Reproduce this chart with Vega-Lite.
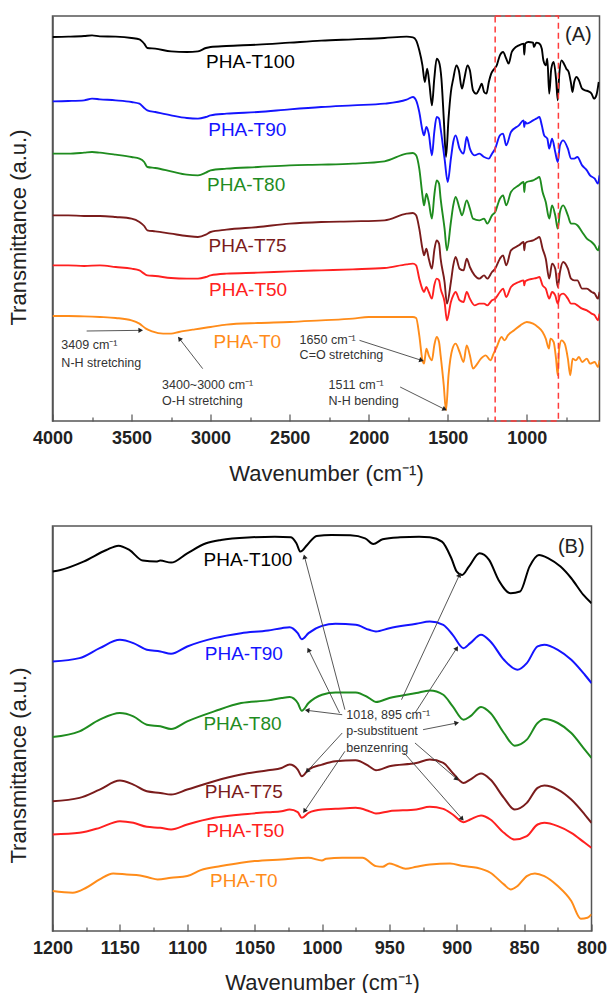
{
"$schema": "https://vega.github.io/schema/vega-lite/v6.json",
"background": "white",
"padding": {"left": 6.5, "top": 14, "right": 0, "bottom": 0},
"columns": 1,
"align": "none",
"spacing": 40,
"config": {
  "view": {"stroke": "#555", "strokeWidth": 1.5},
  "font": "Liberation Sans",
  "axis": {"grid": false, "labelFont": "Liberation Sans", "titleFont": "Liberation Sans", "labelColor": "#222", "titleColor": "#222", "tickColor": "#555", "tickWidth": 1.2, "titleFontWeight": "normal"}
},
"datasets": {
"specA": [
{"s":"PHA-T100","wn":4000,"t":1152},{"s":"PHA-T100","wn":3900,"t":1153},{"s":"PHA-T100","wn":3800,"t":1155},{"s":"PHA-T100","wn":3750,"t":1157},{"s":"PHA-T100","wn":3700,"t":1154},{"s":"PHA-T100","wn":3600,"t":1153},{"s":"PHA-T100","wn":3500,"t":1149},{"s":"PHA-T100","wn":3450,"t":1145},{"s":"PHA-T100","wn":3420,"t":1132},{"s":"PHA-T100","wn":3400,"t":1119},{"s":"PHA-T100","wn":3350,"t":1117},{"s":"PHA-T100","wn":3250,"t":1109},{"s":"PHA-T100","wn":3150,"t":1107},{"s":"PHA-T100","wn":3080,"t":1109},{"s":"PHA-T100","wn":3030,"t":1119},{"s":"PHA-T100","wn":3000,"t":1122},{"s":"PHA-T100","wn":2900,"t":1125},{"s":"PHA-T100","wn":2700,"t":1129},{"s":"PHA-T100","wn":2500,"t":1135},{"s":"PHA-T100","wn":2300,"t":1141},{"s":"PHA-T100","wn":2100,"t":1145},{"s":"PHA-T100","wn":1900,"t":1149},{"s":"PHA-T100","wn":1760,"t":1153},{"s":"PHA-T100","wn":1720,"t":1151},{"s":"PHA-T100","wn":1700,"t":1142},{"s":"PHA-T100","wn":1680,"t":1112},{"s":"PHA-T100","wn":1660,"t":1067},{"s":"PHA-T100","wn":1645,"t":1017},{"s":"PHA-T100","wn":1630,"t":1057},{"s":"PHA-T100","wn":1615,"t":1007},{"s":"PHA-T100","wn":1600,"t":947},{"s":"PHA-T100","wn":1585,"t":1027},{"s":"PHA-T100","wn":1570,"t":1087},{"s":"PHA-T100","wn":1555,"t":1077},{"s":"PHA-T100","wn":1540,"t":1027},{"s":"PHA-T100","wn":1525,"t":907},{"s":"PHA-T100","wn":1511,"t":792},{"s":"PHA-T100","wn":1495,"t":907},{"s":"PHA-T100","wn":1480,"t":987},{"s":"PHA-T100","wn":1465,"t":1027},{"s":"PHA-T100","wn":1445,"t":1067},{"s":"PHA-T100","wn":1430,"t":1052},{"s":"PHA-T100","wn":1410,"t":997},{"s":"PHA-T100","wn":1395,"t":1027},{"s":"PHA-T100","wn":1375,"t":1067},{"s":"PHA-T100","wn":1360,"t":1052},{"s":"PHA-T100","wn":1340,"t":992},{"s":"PHA-T100","wn":1320,"t":982},{"s":"PHA-T100","wn":1300,"t":997},{"s":"PHA-T100","wn":1285,"t":1012},{"s":"PHA-T100","wn":1270,"t":987},{"s":"PHA-T100","wn":1255,"t":982},{"s":"PHA-T100","wn":1240,"t":1017},{"s":"PHA-T100","wn":1225,"t":1042},{"s":"PHA-T100","wn":1205,"t":1057},{"s":"PHA-T100","wn":1190,"t":1067},{"s":"PHA-T100","wn":1170,"t":1097},{"s":"PHA-T100","wn":1150,"t":1107},{"s":"PHA-T100","wn":1130,"t":1087},{"s":"PHA-T100","wn":1115,"t":1072},{"s":"PHA-T100","wn":1095,"t":1107},{"s":"PHA-T100","wn":1080,"t":1117},{"s":"PHA-T100","wn":1050,"t":1127},{"s":"PHA-T100","wn":1020,"t":1132},{"s":"PHA-T100","wn":1016,"t":1099},{"s":"PHA-T100","wn":1010,"t":1132},{"s":"PHA-T100","wn":990,"t":1137},{"s":"PHA-T100","wn":960,"t":1135},{"s":"PHA-T100","wn":955,"t":1122},{"s":"PHA-T100","wn":940,"t":1135},{"s":"PHA-T100","wn":920,"t":1132},{"s":"PHA-T100","wn":905,"t":1117},{"s":"PHA-T100","wn":895,"t":1082},{"s":"PHA-T100","wn":880,"t":1067},{"s":"PHA-T100","wn":870,"t":1087},{"s":"PHA-T100","wn":858,"t":982},{"s":"PHA-T100","wn":845,"t":1057},{"s":"PHA-T100","wn":830,"t":1077},{"s":"PHA-T100","wn":815,"t":1027},{"s":"PHA-T100","wn":804,"t":962},{"s":"PHA-T100","wn":795,"t":1037},{"s":"PHA-T100","wn":780,"t":1082},{"s":"PHA-T100","wn":765,"t":1072},{"s":"PHA-T100","wn":750,"t":1057},{"s":"PHA-T100","wn":735,"t":1047},{"s":"PHA-T100","wn":720,"t":1012},{"s":"PHA-T100","wn":711,"t":987},{"s":"PHA-T100","wn":700,"t":1017},{"s":"PHA-T100","wn":685,"t":1032},{"s":"PHA-T100","wn":670,"t":1022},{"s":"PHA-T100","wn":650,"t":997},{"s":"PHA-T100","wn":630,"t":992},{"s":"PHA-T100","wn":610,"t":989},{"s":"PHA-T100","wn":590,"t":982},{"s":"PHA-T100","wn":575,"t":967},{"s":"PHA-T100","wn":560,"t":977},{"s":"PHA-T100","wn":545,"t":1017},
{"s":"PHA-T90","wn":4000,"t":959},{"s":"PHA-T90","wn":3900,"t":960},{"s":"PHA-T90","wn":3800,"t":962},{"s":"PHA-T90","wn":3750,"t":967},{"s":"PHA-T90","wn":3700,"t":965},{"s":"PHA-T90","wn":3600,"t":962},{"s":"PHA-T90","wn":3500,"t":957},{"s":"PHA-T90","wn":3450,"t":952},{"s":"PHA-T90","wn":3420,"t":939},{"s":"PHA-T90","wn":3400,"t":932},{"s":"PHA-T90","wn":3350,"t":927},{"s":"PHA-T90","wn":3250,"t":917},{"s":"PHA-T90","wn":3150,"t":909},{"s":"PHA-T90","wn":3080,"t":907},{"s":"PHA-T90","wn":3030,"t":912},{"s":"PHA-T90","wn":3000,"t":917},{"s":"PHA-T90","wn":2900,"t":922},{"s":"PHA-T90","wn":2700,"t":927},{"s":"PHA-T90","wn":2500,"t":935},{"s":"PHA-T90","wn":2300,"t":942},{"s":"PHA-T90","wn":2100,"t":947},{"s":"PHA-T90","wn":1900,"t":952},{"s":"PHA-T90","wn":1760,"t":964},{"s":"PHA-T90","wn":1720,"t":972},{"s":"PHA-T90","wn":1700,"t":962},{"s":"PHA-T90","wn":1680,"t":927},{"s":"PHA-T90","wn":1660,"t":872},{"s":"PHA-T90","wn":1650,"t":857},{"s":"PHA-T90","wn":1635,"t":882},{"s":"PHA-T90","wn":1620,"t":862},{"s":"PHA-T90","wn":1600,"t":797},{"s":"PHA-T90","wn":1585,"t":867},{"s":"PHA-T90","wn":1570,"t":912},{"s":"PHA-T90","wn":1555,"t":907},{"s":"PHA-T90","wn":1545,"t":877},{"s":"PHA-T90","wn":1520,"t":787},{"s":"PHA-T90","wn":1500,"t":717},{"s":"PHA-T90","wn":1480,"t":787},{"s":"PHA-T90","wn":1465,"t":837},{"s":"PHA-T90","wn":1450,"t":857},{"s":"PHA-T90","wn":1425,"t":817},{"s":"PHA-T90","wn":1400,"t":802},{"s":"PHA-T90","wn":1380,"t":852},{"s":"PHA-T90","wn":1360,"t":817},{"s":"PHA-T90","wn":1330,"t":797},{"s":"PHA-T90","wn":1300,"t":802},{"s":"PHA-T90","wn":1270,"t":792},{"s":"PHA-T90","wn":1240,"t":787},{"s":"PHA-T90","wn":1220,"t":802},{"s":"PHA-T90","wn":1200,"t":817},{"s":"PHA-T90","wn":1170,"t":857},{"s":"PHA-T90","wn":1150,"t":862},{"s":"PHA-T90","wn":1130,"t":827},{"s":"PHA-T90","wn":1100,"t":867},{"s":"PHA-T90","wn":1050,"t":887},{"s":"PHA-T90","wn":1020,"t":902},{"s":"PHA-T90","wn":1016,"t":882},{"s":"PHA-T90","wn":1010,"t":897},{"s":"PHA-T90","wn":1000,"t":892},{"s":"PHA-T90","wn":960,"t":902},{"s":"PHA-T90","wn":940,"t":907},{"s":"PHA-T90","wn":920,"t":912},{"s":"PHA-T90","wn":905,"t":887},{"s":"PHA-T90","wn":890,"t":857},{"s":"PHA-T90","wn":870,"t":847},{"s":"PHA-T90","wn":858,"t":817},{"s":"PHA-T90","wn":840,"t":847},{"s":"PHA-T90","wn":820,"t":807},{"s":"PHA-T90","wn":804,"t":777},{"s":"PHA-T90","wn":790,"t":827},{"s":"PHA-T90","wn":770,"t":842},{"s":"PHA-T90","wn":740,"t":817},{"s":"PHA-T90","wn":720,"t":787},{"s":"PHA-T90","wn":700,"t":787},{"s":"PHA-T90","wn":680,"t":792},{"s":"PHA-T90","wn":650,"t":767},{"s":"PHA-T90","wn":620,"t":752},{"s":"PHA-T90","wn":600,"t":737},{"s":"PHA-T90","wn":570,"t":727},{"s":"PHA-T90","wn":550,"t":712},{"s":"PHA-T90","wn":540,"t":737},
{"s":"PHA-T80","wn":4000,"t":802},{"s":"PHA-T80","wn":3900,"t":802},{"s":"PHA-T80","wn":3800,"t":805},{"s":"PHA-T80","wn":3750,"t":807},{"s":"PHA-T80","wn":3700,"t":805},{"s":"PHA-T80","wn":3600,"t":799},{"s":"PHA-T80","wn":3500,"t":792},{"s":"PHA-T80","wn":3450,"t":787},{"s":"PHA-T80","wn":3420,"t":777},{"s":"PHA-T80","wn":3400,"t":762},{"s":"PHA-T80","wn":3350,"t":759},{"s":"PHA-T80","wn":3250,"t":749},{"s":"PHA-T80","wn":3150,"t":739},{"s":"PHA-T80","wn":3080,"t":737},{"s":"PHA-T80","wn":3030,"t":745},{"s":"PHA-T80","wn":3000,"t":752},{"s":"PHA-T80","wn":2900,"t":757},{"s":"PHA-T80","wn":2700,"t":762},{"s":"PHA-T80","wn":2500,"t":767},{"s":"PHA-T80","wn":2300,"t":769},{"s":"PHA-T80","wn":2100,"t":772},{"s":"PHA-T80","wn":1900,"t":779},{"s":"PHA-T80","wn":1760,"t":802},{"s":"PHA-T80","wn":1720,"t":804},{"s":"PHA-T80","wn":1700,"t":797},{"s":"PHA-T80","wn":1680,"t":757},{"s":"PHA-T80","wn":1660,"t":677},{"s":"PHA-T80","wn":1650,"t":647},{"s":"PHA-T80","wn":1635,"t":682},{"s":"PHA-T80","wn":1620,"t":657},{"s":"PHA-T80","wn":1600,"t":607},{"s":"PHA-T80","wn":1585,"t":677},{"s":"PHA-T80","wn":1570,"t":722},{"s":"PHA-T80","wn":1555,"t":712},{"s":"PHA-T80","wn":1545,"t":667},{"s":"PHA-T80","wn":1520,"t":577},{"s":"PHA-T80","wn":1505,"t":512},{"s":"PHA-T80","wn":1480,"t":597},{"s":"PHA-T80","wn":1465,"t":647},{"s":"PHA-T80","wn":1450,"t":672},{"s":"PHA-T80","wn":1425,"t":637},{"s":"PHA-T80","wn":1410,"t":617},{"s":"PHA-T80","wn":1380,"t":662},{"s":"PHA-T80","wn":1360,"t":637},{"s":"PHA-T80","wn":1340,"t":607},{"s":"PHA-T80","wn":1300,"t":602},{"s":"PHA-T80","wn":1270,"t":607},{"s":"PHA-T80","wn":1250,"t":592},{"s":"PHA-T80","wn":1220,"t":617},{"s":"PHA-T80","wn":1200,"t":627},{"s":"PHA-T80","wn":1170,"t":667},{"s":"PHA-T80","wn":1150,"t":677},{"s":"PHA-T80","wn":1130,"t":647},{"s":"PHA-T80","wn":1100,"t":687},{"s":"PHA-T80","wn":1050,"t":707},{"s":"PHA-T80","wn":1020,"t":717},{"s":"PHA-T80","wn":1016,"t":687},{"s":"PHA-T80","wn":1010,"t":712},{"s":"PHA-T80","wn":1000,"t":717},{"s":"PHA-T80","wn":960,"t":722},{"s":"PHA-T80","wn":940,"t":727},{"s":"PHA-T80","wn":920,"t":732},{"s":"PHA-T80","wn":900,"t":687},{"s":"PHA-T80","wn":880,"t":657},{"s":"PHA-T80","wn":858,"t":607},{"s":"PHA-T80","wn":840,"t":647},{"s":"PHA-T80","wn":820,"t":617},{"s":"PHA-T80","wn":804,"t":577},{"s":"PHA-T80","wn":790,"t":627},{"s":"PHA-T80","wn":770,"t":647},{"s":"PHA-T80","wn":740,"t":617},{"s":"PHA-T80","wn":720,"t":592},{"s":"PHA-T80","wn":700,"t":592},{"s":"PHA-T80","wn":680,"t":587},{"s":"PHA-T80","wn":650,"t":567},{"s":"PHA-T80","wn":620,"t":547},{"s":"PHA-T80","wn":590,"t":537},{"s":"PHA-T80","wn":570,"t":527},{"s":"PHA-T80","wn":550,"t":512},{"s":"PHA-T80","wn":540,"t":527},
{"s":"PHA-T75","wn":4000,"t":617},{"s":"PHA-T75","wn":3900,"t":617},{"s":"PHA-T75","wn":3800,"t":615},{"s":"PHA-T75","wn":3700,"t":615},{"s":"PHA-T75","wn":3600,"t":612},{"s":"PHA-T75","wn":3500,"t":607},{"s":"PHA-T75","wn":3450,"t":597},{"s":"PHA-T75","wn":3420,"t":585},{"s":"PHA-T75","wn":3400,"t":572},{"s":"PHA-T75","wn":3350,"t":569},{"s":"PHA-T75","wn":3250,"t":562},{"s":"PHA-T75","wn":3150,"t":555},{"s":"PHA-T75","wn":3080,"t":552},{"s":"PHA-T75","wn":3030,"t":559},{"s":"PHA-T75","wn":3000,"t":567},{"s":"PHA-T75","wn":2900,"t":574},{"s":"PHA-T75","wn":2700,"t":582},{"s":"PHA-T75","wn":2500,"t":592},{"s":"PHA-T75","wn":2300,"t":597},{"s":"PHA-T75","wn":2100,"t":599},{"s":"PHA-T75","wn":1900,"t":602},{"s":"PHA-T75","wn":1760,"t":622},{"s":"PHA-T75","wn":1720,"t":624},{"s":"PHA-T75","wn":1700,"t":617},{"s":"PHA-T75","wn":1680,"t":577},{"s":"PHA-T75","wn":1660,"t":517},{"s":"PHA-T75","wn":1650,"t":497},{"s":"PHA-T75","wn":1635,"t":517},{"s":"PHA-T75","wn":1620,"t":487},{"s":"PHA-T75","wn":1600,"t":457},{"s":"PHA-T75","wn":1585,"t":512},{"s":"PHA-T75","wn":1570,"t":542},{"s":"PHA-T75","wn":1555,"t":532},{"s":"PHA-T75","wn":1545,"t":487},{"s":"PHA-T75","wn":1520,"t":417},{"s":"PHA-T75","wn":1505,"t":352},{"s":"PHA-T75","wn":1480,"t":417},{"s":"PHA-T75","wn":1465,"t":467},{"s":"PHA-T75","wn":1450,"t":492},{"s":"PHA-T75","wn":1425,"t":457},{"s":"PHA-T75","wn":1400,"t":452},{"s":"PHA-T75","wn":1380,"t":487},{"s":"PHA-T75","wn":1360,"t":462},{"s":"PHA-T75","wn":1330,"t":437},{"s":"PHA-T75","wn":1300,"t":427},{"s":"PHA-T75","wn":1270,"t":437},{"s":"PHA-T75","wn":1250,"t":427},{"s":"PHA-T75","wn":1220,"t":447},{"s":"PHA-T75","wn":1200,"t":457},{"s":"PHA-T75","wn":1170,"t":487},{"s":"PHA-T75","wn":1150,"t":497},{"s":"PHA-T75","wn":1130,"t":467},{"s":"PHA-T75","wn":1100,"t":512},{"s":"PHA-T75","wn":1050,"t":527},{"s":"PHA-T75","wn":1020,"t":537},{"s":"PHA-T75","wn":1016,"t":512},{"s":"PHA-T75","wn":1010,"t":532},{"s":"PHA-T75","wn":1000,"t":537},{"s":"PHA-T75","wn":960,"t":542},{"s":"PHA-T75","wn":940,"t":547},{"s":"PHA-T75","wn":920,"t":552},{"s":"PHA-T75","wn":900,"t":517},{"s":"PHA-T75","wn":880,"t":487},{"s":"PHA-T75","wn":858,"t":427},{"s":"PHA-T75","wn":840,"t":472},{"s":"PHA-T75","wn":820,"t":457},{"s":"PHA-T75","wn":804,"t":402},{"s":"PHA-T75","wn":790,"t":447},{"s":"PHA-T75","wn":770,"t":477},{"s":"PHA-T75","wn":740,"t":457},{"s":"PHA-T75","wn":720,"t":427},{"s":"PHA-T75","wn":700,"t":422},{"s":"PHA-T75","wn":680,"t":422},{"s":"PHA-T75","wn":650,"t":397},{"s":"PHA-T75","wn":620,"t":397},{"s":"PHA-T75","wn":590,"t":387},{"s":"PHA-T75","wn":570,"t":382},{"s":"PHA-T75","wn":550,"t":367},{"s":"PHA-T75","wn":540,"t":387},
{"s":"PHA-T50","wn":4000,"t":467},{"s":"PHA-T50","wn":3900,"t":467},{"s":"PHA-T50","wn":3800,"t":465},{"s":"PHA-T50","wn":3700,"t":467},{"s":"PHA-T50","wn":3600,"t":462},{"s":"PHA-T50","wn":3500,"t":457},{"s":"PHA-T50","wn":3450,"t":452},{"s":"PHA-T50","wn":3420,"t":442},{"s":"PHA-T50","wn":3400,"t":437},{"s":"PHA-T50","wn":3350,"t":435},{"s":"PHA-T50","wn":3250,"t":429},{"s":"PHA-T50","wn":3150,"t":427},{"s":"PHA-T50","wn":3080,"t":427},{"s":"PHA-T50","wn":3030,"t":432},{"s":"PHA-T50","wn":3000,"t":437},{"s":"PHA-T50","wn":2900,"t":442},{"s":"PHA-T50","wn":2700,"t":445},{"s":"PHA-T50","wn":2500,"t":449},{"s":"PHA-T50","wn":2300,"t":452},{"s":"PHA-T50","wn":2100,"t":455},{"s":"PHA-T50","wn":1900,"t":459},{"s":"PHA-T50","wn":1760,"t":470},{"s":"PHA-T50","wn":1720,"t":472},{"s":"PHA-T50","wn":1700,"t":467},{"s":"PHA-T50","wn":1680,"t":427},{"s":"PHA-T50","wn":1660,"t":395},{"s":"PHA-T50","wn":1650,"t":387},{"s":"PHA-T50","wn":1635,"t":402},{"s":"PHA-T50","wn":1620,"t":387},{"s":"PHA-T50","wn":1600,"t":367},{"s":"PHA-T50","wn":1585,"t":407},{"s":"PHA-T50","wn":1570,"t":427},{"s":"PHA-T50","wn":1555,"t":422},{"s":"PHA-T50","wn":1545,"t":397},{"s":"PHA-T50","wn":1520,"t":357},{"s":"PHA-T50","wn":1505,"t":302},{"s":"PHA-T50","wn":1480,"t":357},{"s":"PHA-T50","wn":1465,"t":377},{"s":"PHA-T50","wn":1450,"t":387},{"s":"PHA-T50","wn":1425,"t":362},{"s":"PHA-T50","wn":1400,"t":357},{"s":"PHA-T50","wn":1380,"t":387},{"s":"PHA-T50","wn":1360,"t":367},{"s":"PHA-T50","wn":1330,"t":347},{"s":"PHA-T50","wn":1300,"t":352},{"s":"PHA-T50","wn":1270,"t":352},{"s":"PHA-T50","wn":1250,"t":347},{"s":"PHA-T50","wn":1220,"t":362},{"s":"PHA-T50","wn":1200,"t":367},{"s":"PHA-T50","wn":1170,"t":387},{"s":"PHA-T50","wn":1150,"t":397},{"s":"PHA-T50","wn":1130,"t":372},{"s":"PHA-T50","wn":1100,"t":402},{"s":"PHA-T50","wn":1050,"t":417},{"s":"PHA-T50","wn":1020,"t":422},{"s":"PHA-T50","wn":1016,"t":407},{"s":"PHA-T50","wn":1010,"t":419},{"s":"PHA-T50","wn":1000,"t":422},{"s":"PHA-T50","wn":960,"t":427},{"s":"PHA-T50","wn":940,"t":429},{"s":"PHA-T50","wn":920,"t":432},{"s":"PHA-T50","wn":900,"t":407},{"s":"PHA-T50","wn":880,"t":397},{"s":"PHA-T50","wn":858,"t":367},{"s":"PHA-T50","wn":840,"t":387},{"s":"PHA-T50","wn":820,"t":377},{"s":"PHA-T50","wn":804,"t":352},{"s":"PHA-T50","wn":790,"t":377},{"s":"PHA-T50","wn":770,"t":382},{"s":"PHA-T50","wn":740,"t":367},{"s":"PHA-T50","wn":720,"t":352},{"s":"PHA-T50","wn":700,"t":352},{"s":"PHA-T50","wn":680,"t":347},{"s":"PHA-T50","wn":650,"t":337},{"s":"PHA-T50","wn":620,"t":332},{"s":"PHA-T50","wn":590,"t":322},{"s":"PHA-T50","wn":570,"t":317},{"s":"PHA-T50","wn":550,"t":302},{"s":"PHA-T50","wn":540,"t":322},
{"s":"PHA-T0","wn":4000,"t":315},{"s":"PHA-T0","wn":3900,"t":315},{"s":"PHA-T0","wn":3800,"t":314},{"s":"PHA-T0","wn":3700,"t":312},{"s":"PHA-T0","wn":3600,"t":309},{"s":"PHA-T0","wn":3500,"t":302},{"s":"PHA-T0","wn":3450,"t":292},{"s":"PHA-T0","wn":3409,"t":277},{"s":"PHA-T0","wn":3370,"t":269},{"s":"PHA-T0","wn":3300,"t":262},{"s":"PHA-T0","wn":3250,"t":262},{"s":"PHA-T0","wn":3200,"t":267},{"s":"PHA-T0","wn":3100,"t":275},{"s":"PHA-T0","wn":3000,"t":282},{"s":"PHA-T0","wn":2900,"t":289},{"s":"PHA-T0","wn":2700,"t":294},{"s":"PHA-T0","wn":2500,"t":297},{"s":"PHA-T0","wn":2300,"t":302},{"s":"PHA-T0","wn":2100,"t":307},{"s":"PHA-T0","wn":2000,"t":312},{"s":"PHA-T0","wn":1900,"t":312},{"s":"PHA-T0","wn":1760,"t":312},{"s":"PHA-T0","wn":1720,"t":312},{"s":"PHA-T0","wn":1700,"t":309},{"s":"PHA-T0","wn":1680,"t":257},{"s":"PHA-T0","wn":1660,"t":182},{"s":"PHA-T0","wn":1650,"t":172},{"s":"PHA-T0","wn":1635,"t":217},{"s":"PHA-T0","wn":1620,"t":197},{"s":"PHA-T0","wn":1600,"t":182},{"s":"PHA-T0","wn":1585,"t":227},{"s":"PHA-T0","wn":1570,"t":252},{"s":"PHA-T0","wn":1555,"t":237},{"s":"PHA-T0","wn":1545,"t":197},{"s":"PHA-T0","wn":1525,"t":107},{"s":"PHA-T0","wn":1511,"t":32},{"s":"PHA-T0","wn":1495,"t":137},{"s":"PHA-T0","wn":1470,"t":217},{"s":"PHA-T0","wn":1450,"t":232},{"s":"PHA-T0","wn":1425,"t":207},{"s":"PHA-T0","wn":1400,"t":177},{"s":"PHA-T0","wn":1380,"t":227},{"s":"PHA-T0","wn":1360,"t":197},{"s":"PHA-T0","wn":1340,"t":157},{"s":"PHA-T0","wn":1320,"t":167},{"s":"PHA-T0","wn":1290,"t":187},{"s":"PHA-T0","wn":1260,"t":197},{"s":"PHA-T0","wn":1230,"t":182},{"s":"PHA-T0","wn":1210,"t":202},{"s":"PHA-T0","wn":1190,"t":222},{"s":"PHA-T0","wn":1160,"t":252},{"s":"PHA-T0","wn":1140,"t":242},{"s":"PHA-T0","wn":1120,"t":257},{"s":"PHA-T0","wn":1080,"t":272},{"s":"PHA-T0","wn":1040,"t":287},{"s":"PHA-T0","wn":1000,"t":297},{"s":"PHA-T0","wn":960,"t":292},{"s":"PHA-T0","wn":930,"t":282},{"s":"PHA-T0","wn":900,"t":267},{"s":"PHA-T0","wn":880,"t":247},{"s":"PHA-T0","wn":860,"t":217},{"s":"PHA-T0","wn":850,"t":247},{"s":"PHA-T0","wn":830,"t":237},{"s":"PHA-T0","wn":815,"t":187},{"s":"PHA-T0","wn":804,"t":137},{"s":"PHA-T0","wn":795,"t":217},{"s":"PHA-T0","wn":780,"t":242},{"s":"PHA-T0","wn":760,"t":232},{"s":"PHA-T0","wn":740,"t":187},{"s":"PHA-T0","wn":725,"t":137},{"s":"PHA-T0","wn":710,"t":187},{"s":"PHA-T0","wn":690,"t":182},{"s":"PHA-T0","wn":670,"t":192},{"s":"PHA-T0","wn":650,"t":177},{"s":"PHA-T0","wn":620,"t":187},{"s":"PHA-T0","wn":600,"t":172},{"s":"PHA-T0","wn":570,"t":177},{"s":"PHA-T0","wn":550,"t":162},{"s":"PHA-T0","wn":540,"t":182}
],
"specB": [
{"s":"PHA-T100","wn":1200,"t":1080},{"s":"PHA-T100","wn":1194,"t":1085},{"s":"PHA-T100","wn":1177,"t":1110},{"s":"PHA-T100","wn":1160,"t":1145},{"s":"PHA-T100","wn":1151,"t":1158},{"s":"PHA-T100","wn":1143,"t":1145},{"s":"PHA-T100","wn":1133,"t":1113},{"s":"PHA-T100","wn":1123,"t":1110},{"s":"PHA-T100","wn":1120,"t":1113},{"s":"PHA-T100","wn":1112,"t":1107},{"s":"PHA-T100","wn":1100,"t":1135},{"s":"PHA-T100","wn":1086,"t":1165},{"s":"PHA-T100","wn":1075,"t":1175},{"s":"PHA-T100","wn":1052,"t":1183},{"s":"PHA-T100","wn":1035,"t":1185},{"s":"PHA-T100","wn":1023,"t":1183},{"s":"PHA-T100","wn":1019,"t":1165},{"s":"PHA-T100","wn":1016,"t":1140},{"s":"PHA-T100","wn":1011,"t":1160},{"s":"PHA-T100","wn":1004,"t":1187},{"s":"PHA-T100","wn":993,"t":1190},{"s":"PHA-T100","wn":979,"t":1189},{"s":"PHA-T100","wn":968,"t":1180},{"s":"PHA-T100","wn":962,"t":1163},{"s":"PHA-T100","wn":955,"t":1177},{"s":"PHA-T100","wn":942,"t":1183},{"s":"PHA-T100","wn":928,"t":1185},{"s":"PHA-T100","wn":920,"t":1183},{"s":"PHA-T100","wn":911,"t":1170},{"s":"PHA-T100","wn":904,"t":1120},{"s":"PHA-T100","wn":900,"t":1080},{"s":"PHA-T100","wn":896,"t":1070},{"s":"PHA-T100","wn":891,"t":1095},{"s":"PHA-T100","wn":883,"t":1135},{"s":"PHA-T100","wn":876,"t":1115},{"s":"PHA-T100","wn":869,"t":1055},{"s":"PHA-T100","wn":860,"t":1015},{"s":"PHA-T100","wn":853,"t":1020},{"s":"PHA-T100","wn":846,"t":1095},{"s":"PHA-T100","wn":839,"t":1130},{"s":"PHA-T100","wn":832,"t":1120},{"s":"PHA-T100","wn":823,"t":1095},{"s":"PHA-T100","wn":815,"t":1060},{"s":"PHA-T100","wn":806,"t":1010},{"s":"PHA-T100","wn":800,"t":985},
{"s":"PHA-T90","wn":1200,"t":810},{"s":"PHA-T90","wn":1180,"t":820},{"s":"PHA-T90","wn":1165,"t":850},{"s":"PHA-T90","wn":1150,"t":875},{"s":"PHA-T90","wn":1140,"t":865},{"s":"PHA-T90","wn":1130,"t":845},{"s":"PHA-T90","wn":1120,"t":840},{"s":"PHA-T90","wn":1112,"t":833},{"s":"PHA-T90","wn":1100,"t":855},{"s":"PHA-T90","wn":1080,"t":880},{"s":"PHA-T90","wn":1060,"t":895},{"s":"PHA-T90","wn":1040,"t":903},{"s":"PHA-T90","wn":1030,"t":910},{"s":"PHA-T90","wn":1024,"t":913},{"s":"PHA-T90","wn":1018,"t":895},{"s":"PHA-T90","wn":1015,"t":877},{"s":"PHA-T90","wn":1010,"t":895},{"s":"PHA-T90","wn":1000,"t":917},{"s":"PHA-T90","wn":990,"t":923},{"s":"PHA-T90","wn":975,"t":920},{"s":"PHA-T90","wn":965,"t":905},{"s":"PHA-T90","wn":960,"t":900},{"s":"PHA-T90","wn":950,"t":910},{"s":"PHA-T90","wn":930,"t":923},{"s":"PHA-T90","wn":920,"t":930},{"s":"PHA-T90","wn":910,"t":920},{"s":"PHA-T90","wn":903,"t":890},{"s":"PHA-T90","wn":895,"t":850},{"s":"PHA-T90","wn":890,"t":865},{"s":"PHA-T90","wn":882,"t":890},{"s":"PHA-T90","wn":875,"t":870},{"s":"PHA-T90","wn":865,"t":815},{"s":"PHA-T90","wn":855,"t":785},{"s":"PHA-T90","wn":848,"t":805},{"s":"PHA-T90","wn":840,"t":855},{"s":"PHA-T90","wn":835,"t":860},{"s":"PHA-T90","wn":825,"t":845},{"s":"PHA-T90","wn":815,"t":815},{"s":"PHA-T90","wn":805,"t":770},{"s":"PHA-T90","wn":800,"t":745},
{"s":"PHA-T80","wn":1200,"t":583},{"s":"PHA-T80","wn":1180,"t":600},{"s":"PHA-T80","wn":1165,"t":635},{"s":"PHA-T80","wn":1150,"t":655},{"s":"PHA-T80","wn":1140,"t":645},{"s":"PHA-T80","wn":1130,"t":620},{"s":"PHA-T80","wn":1120,"t":615},{"s":"PHA-T80","wn":1112,"t":607},{"s":"PHA-T80","wn":1100,"t":630},{"s":"PHA-T80","wn":1080,"t":660},{"s":"PHA-T80","wn":1060,"t":685},{"s":"PHA-T80","wn":1040,"t":693},{"s":"PHA-T80","wn":1030,"t":700},{"s":"PHA-T80","wn":1024,"t":703},{"s":"PHA-T80","wn":1018,"t":685},{"s":"PHA-T80","wn":1015,"t":662},{"s":"PHA-T80","wn":1010,"t":685},{"s":"PHA-T80","wn":1000,"t":710},{"s":"PHA-T80","wn":990,"t":717},{"s":"PHA-T80","wn":975,"t":717},{"s":"PHA-T80","wn":965,"t":700},{"s":"PHA-T80","wn":960,"t":688},{"s":"PHA-T80","wn":950,"t":700},{"s":"PHA-T80","wn":930,"t":715},{"s":"PHA-T80","wn":920,"t":723},{"s":"PHA-T80","wn":910,"t":710},{"s":"PHA-T80","wn":903,"t":675},{"s":"PHA-T80","wn":895,"t":635},{"s":"PHA-T80","wn":890,"t":645},{"s":"PHA-T80","wn":882,"t":673},{"s":"PHA-T80","wn":875,"t":655},{"s":"PHA-T80","wn":865,"t":595},{"s":"PHA-T80","wn":857,"t":557},{"s":"PHA-T80","wn":848,"t":575},{"s":"PHA-T80","wn":840,"t":625},{"s":"PHA-T80","wn":835,"t":637},{"s":"PHA-T80","wn":825,"t":625},{"s":"PHA-T80","wn":815,"t":595},{"s":"PHA-T80","wn":805,"t":545},{"s":"PHA-T80","wn":800,"t":520},
{"s":"PHA-T75","wn":1200,"t":390},{"s":"PHA-T75","wn":1180,"t":400},{"s":"PHA-T75","wn":1165,"t":425},{"s":"PHA-T75","wn":1150,"t":452},{"s":"PHA-T75","wn":1140,"t":440},{"s":"PHA-T75","wn":1130,"t":420},{"s":"PHA-T75","wn":1120,"t":415},{"s":"PHA-T75","wn":1112,"t":410},{"s":"PHA-T75","wn":1100,"t":425},{"s":"PHA-T75","wn":1080,"t":450},{"s":"PHA-T75","wn":1060,"t":470},{"s":"PHA-T75","wn":1040,"t":483},{"s":"PHA-T75","wn":1030,"t":490},{"s":"PHA-T75","wn":1024,"t":500},{"s":"PHA-T75","wn":1018,"t":485},{"s":"PHA-T75","wn":1015,"t":465},{"s":"PHA-T75","wn":1010,"t":485},{"s":"PHA-T75","wn":1000,"t":500},{"s":"PHA-T75","wn":990,"t":510},{"s":"PHA-T75","wn":975,"t":513},{"s":"PHA-T75","wn":965,"t":495},{"s":"PHA-T75","wn":960,"t":483},{"s":"PHA-T75","wn":950,"t":495},{"s":"PHA-T75","wn":930,"t":505},{"s":"PHA-T75","wn":920,"t":515},{"s":"PHA-T75","wn":910,"t":505},{"s":"PHA-T75","wn":903,"t":475},{"s":"PHA-T75","wn":895,"t":445},{"s":"PHA-T75","wn":890,"t":455},{"s":"PHA-T75","wn":882,"t":473},{"s":"PHA-T75","wn":875,"t":455},{"s":"PHA-T75","wn":865,"t":400},{"s":"PHA-T75","wn":857,"t":365},{"s":"PHA-T75","wn":848,"t":385},{"s":"PHA-T75","wn":840,"t":430},{"s":"PHA-T75","wn":835,"t":437},{"s":"PHA-T75","wn":825,"t":425},{"s":"PHA-T75","wn":815,"t":395},{"s":"PHA-T75","wn":805,"t":350},{"s":"PHA-T75","wn":800,"t":325},
{"s":"PHA-T50","wn":1200,"t":290},{"s":"PHA-T50","wn":1180,"t":295},{"s":"PHA-T50","wn":1165,"t":310},{"s":"PHA-T50","wn":1150,"t":330},{"s":"PHA-T50","wn":1140,"t":325},{"s":"PHA-T50","wn":1130,"t":313},{"s":"PHA-T50","wn":1120,"t":310},{"s":"PHA-T50","wn":1112,"t":305},{"s":"PHA-T50","wn":1100,"t":320},{"s":"PHA-T50","wn":1080,"t":340},{"s":"PHA-T50","wn":1060,"t":350},{"s":"PHA-T50","wn":1040,"t":357},{"s":"PHA-T50","wn":1030,"t":360},{"s":"PHA-T50","wn":1024,"t":365},{"s":"PHA-T50","wn":1018,"t":357},{"s":"PHA-T50","wn":1015,"t":340},{"s":"PHA-T50","wn":1010,"t":355},{"s":"PHA-T50","wn":1000,"t":365},{"s":"PHA-T50","wn":990,"t":367},{"s":"PHA-T50","wn":975,"t":370},{"s":"PHA-T50","wn":965,"t":360},{"s":"PHA-T50","wn":960,"t":353},{"s":"PHA-T50","wn":950,"t":360},{"s":"PHA-T50","wn":930,"t":365},{"s":"PHA-T50","wn":920,"t":373},{"s":"PHA-T50","wn":910,"t":367},{"s":"PHA-T50","wn":903,"t":350},{"s":"PHA-T50","wn":895,"t":327},{"s":"PHA-T50","wn":890,"t":335},{"s":"PHA-T50","wn":882,"t":347},{"s":"PHA-T50","wn":875,"t":335},{"s":"PHA-T50","wn":865,"t":295},{"s":"PHA-T50","wn":857,"t":275},{"s":"PHA-T50","wn":848,"t":285},{"s":"PHA-T50","wn":840,"t":320},{"s":"PHA-T50","wn":835,"t":325},{"s":"PHA-T50","wn":825,"t":315},{"s":"PHA-T50","wn":815,"t":295},{"s":"PHA-T50","wn":805,"t":265},{"s":"PHA-T50","wn":800,"t":250},
{"s":"PHA-T0","wn":1200,"t":120},{"s":"PHA-T0","wn":1185,"t":115},{"s":"PHA-T0","wn":1175,"t":130},{"s":"PHA-T0","wn":1165,"t":155},{"s":"PHA-T0","wn":1155,"t":173},{"s":"PHA-T0","wn":1145,"t":170},{"s":"PHA-T0","wn":1135,"t":167},{"s":"PHA-T0","wn":1128,"t":160},{"s":"PHA-T0","wn":1122,"t":155},{"s":"PHA-T0","wn":1112,"t":160},{"s":"PHA-T0","wn":1100,"t":165},{"s":"PHA-T0","wn":1090,"t":183},{"s":"PHA-T0","wn":1075,"t":195},{"s":"PHA-T0","wn":1060,"t":205},{"s":"PHA-T0","wn":1050,"t":210},{"s":"PHA-T0","wn":1030,"t":215},{"s":"PHA-T0","wn":1010,"t":220},{"s":"PHA-T0","wn":1000,"t":212},{"s":"PHA-T0","wn":997,"t":217},{"s":"PHA-T0","wn":985,"t":220},{"s":"PHA-T0","wn":970,"t":220},{"s":"PHA-T0","wn":960,"t":195},{"s":"PHA-T0","wn":955,"t":193},{"s":"PHA-T0","wn":950,"t":203},{"s":"PHA-T0","wn":945,"t":197},{"s":"PHA-T0","wn":938,"t":187},{"s":"PHA-T0","wn":930,"t":193},{"s":"PHA-T0","wn":920,"t":200},{"s":"PHA-T0","wn":905,"t":203},{"s":"PHA-T0","wn":895,"t":195},{"s":"PHA-T0","wn":885,"t":190},{"s":"PHA-T0","wn":875,"t":175},{"s":"PHA-T0","wn":865,"t":140},{"s":"PHA-T0","wn":860,"t":125},{"s":"PHA-T0","wn":855,"t":135},{"s":"PHA-T0","wn":848,"t":165},{"s":"PHA-T0","wn":842,"t":173},{"s":"PHA-T0","wn":835,"t":165},{"s":"PHA-T0","wn":825,"t":135},{"s":"PHA-T0","wn":815,"t":90},{"s":"PHA-T0","wn":808,"t":37},{"s":"PHA-T0","wn":803,"t":40},{"s":"PHA-T0","wn":800,"t":50}
],
"labA": [
{"s":"PHA-T100","wn":2748,"t":1077},{"s":"PHA-T90","wn":2768,"t":872},{"s":"PHA-T80","wn":2775,"t":709},{"s":"PHA-T75","wn":2766,"t":525},{"s":"PHA-T50","wn":2763,"t":392},{"s":"PHA-T0","wn":2768,"t":237}
],
"labB": [
{"s":"PHA-T100","wn":1055,"t":1115},{"s":"PHA-T90","wn":1058,"t":833},{"s":"PHA-T80","wn":1059,"t":623},{"s":"PHA-T75","wn":1058,"t":418},{"s":"PHA-T50","wn":1057,"t":300},{"s":"PHA-T0","wn":1058,"t":150}
],
"annA": [
{"txt":"3409 cm⁻¹","wn":3944,"t":227},{"txt":"N-H stretching","wn":3944,"t":174},{"txt":"3400~3000 cm⁻¹","wn":3307,"t":109},{"txt":"O-H stretching","wn":3307,"t":59},{"txt":"1650 cm⁻¹","wn":2437,"t":244},{"txt":"C=O stretching","wn":2437,"t":199},{"txt":"1511 cm⁻¹","wn":2254,"t":107},{"txt":"N-H bending","wn":2254,"t":60}
],
"annB": [
{"txt":"1018, 895 cm⁻¹","wn":982,"t":650},{"txt":"p-substituent","wn":982,"t":600},{"txt":"benzenring","wn":982,"t":550}
],
"arrA": [
{"x1":3784,"y1":270,"x2":3442,"y2":272},{"x1":3050,"y1":157,"x2":3197,"y2":247},{"x1":2058,"y1":242,"x2":1666,"y2":182},{"x1":1801,"y1":102,"x2":1519,"y2":35}
],
"arrB": [
{"x1":983,"y1":665,"x2":1013,"y2":1125},{"x1":987,"y1":655,"x2":1010,"y2":845},{"x1":985,"y1":650,"x2":1011,"y2":663},{"x1":985,"y1":595,"x2":1011,"y2":480},{"x1":983,"y1":540,"x2":1013,"y2":360},{"x1":941,"y1":695,"x2":898,"y2":1070},{"x1":931,"y1":655,"x2":900,"y2":850},{"x1":925,"y1":605,"x2":900,"y2":625},{"x1":931,"y1":565,"x2":900,"y2":457},{"x1":939,"y1":535,"x2":896,"y2":337}
],
"boxA": [{"x1":1200,"x2":800}],
"tagA": [{"txt":"(A)","wn":674,"t":1157}],
"tagB": [{"txt":"(B)","wn":815,"t":1155}]
},
"concat": [
{
 "width": 547, "height": 405,
 "resolve": {"axis": {"x": "independent"}},
 "layer": [
  {
   "data": {"name": "specA"},
   "mark": {"type": "line", "strokeWidth": 1.9, "clip": true, "interpolate": "monotone"},
   "encoding": {
    "x": {"field": "wn", "type": "quantitative", "scale": {"domain": [4000, 540], "nice": false, "zero": false},
          "axis": {"orient": "bottom", "values": [4000,3500,3000,2500,2000,1500,1000], "format": "d", "title": "Wavenumber (cm⁻¹)", "titleFontSize": 22, "labelFontSize": 18, "labelFontWeight": "bold", "labelFlush": false, "labelOverlap": false, "tickSize": -7, "labelPadding": 15, "titlePadding": 16, "domain": false}},
    "y": {"field": "t", "type": "quantitative", "scale": {"domain": [0, 1215], "nice": false, "zero": false},
          "axis": {"orient": "left", "title": "Transmittance (a.u.)", "titleFontSize": 22, "labels": false, "ticks": false, "domain": true, "domainColor": "#555", "domainWidth": 1.5, "titleX": -21.7, "titleY": 211, "titleAngle": 270, "titleAlign": "center", "titleBaseline": "bottom"}},
    "color": {"field": "s", "type": "nominal", "legend": null,
              "scale": {"domain": ["PHA-T100","PHA-T90","PHA-T80","PHA-T75","PHA-T50","PHA-T0"], "range": ["#000000","#1414ff","#1f8c1f","#7a1c1c","#ff2020","#ff8c1a"]}}
   }
  },
  {
   "data": {"name": "boxA"},
   "mark": {"type": "rect", "fillOpacity": 0, "stroke": "#ff3b3b", "strokeWidth": 1.5, "strokeDash": [6, 4]},
   "encoding": {
    "x": {"field": "x1", "type": "quantitative", "axis": {"orient": "bottom", "values": [3750,3250,2750,2250,1750,1250,750], "labels": false, "domain": false, "tickSize": -4, "title": null}},
    "x2": {"field": "x2"}
   }
  },
  {
   "data": {"name": "labA"},
   "mark": {"type": "text", "fontSize": 19, "align": "center", "baseline": "middle"},
   "encoding": {
    "x": {"field": "wn", "type": "quantitative", "axis": null},
    "y": {"field": "t", "type": "quantitative", "axis": {"orient": "left", "title": "Transmittance (a.u.)", "titleFontSize": 22, "labels": false, "ticks": false, "domain": true, "domainColor": "#555", "domainWidth": 1.5, "titleX": -21.7, "titleY": 211, "titleAngle": 270, "titleAlign": "center", "titleBaseline": "bottom"}},
    "text": {"field": "s"},
    "color": {"field": "s", "type": "nominal", "legend": null}
   }
  },
  {
   "data": {"name": "annA"},
   "mark": {"type": "text", "fontSize": 12.5, "align": "left", "baseline": "middle", "color": "#333"},
   "encoding": {
    "x": {"field": "wn", "type": "quantitative", "axis": null},
    "y": {"field": "t", "type": "quantitative", "axis": {"orient": "left", "title": "Transmittance (a.u.)", "titleFontSize": 22, "labels": false, "ticks": false, "domain": true, "domainColor": "#555", "domainWidth": 1.5, "titleX": -21.7, "titleY": 211, "titleAngle": 270, "titleAlign": "center", "titleBaseline": "bottom"}},
    "text": {"field": "txt"}
   }
  },
  {
   "data": {"name": "arrA"},
   "mark": {"type": "rule", "color": "#444", "strokeWidth": 0.9},
   "encoding": {
    "x": {"field": "x1", "type": "quantitative", "axis": null},
    "x2": {"field": "x2"},
    "y": {"field": "y1", "type": "quantitative", "axis": {"orient": "left", "title": "Transmittance (a.u.)", "titleFontSize": 22, "labels": false, "ticks": false, "domain": true, "domainColor": "#555", "domainWidth": 1.5, "titleX": -21.7, "titleY": 211, "titleAngle": 270, "titleAlign": "center", "titleBaseline": "bottom"}},
    "y2": {"field": "y2"}
   }
  },
  {
   "data": {"name": "arrA"},
   "transform": [{"calculate": "atan2(-(datum.x2-datum.x1)*0.1581, (datum.y2-datum.y1)*0.3333)*180/PI", "as": "ang"}],
   "mark": {"type": "point", "shape": "triangle-up", "filled": true, "size": 28, "color": "#222", "opacity": 1},
   "encoding": {
    "x": {"field": "x2", "type": "quantitative", "axis": null},
    "y": {"field": "y2", "type": "quantitative", "axis": {"orient": "left", "title": "Transmittance (a.u.)", "titleFontSize": 22, "labels": false, "ticks": false, "domain": true, "domainColor": "#555", "domainWidth": 1.5, "titleX": -21.7, "titleY": 211, "titleAngle": 270, "titleAlign": "center", "titleBaseline": "bottom"}},
    "angle": {"field": "ang", "type": "quantitative", "scale": null}
   }
  },
  {
   "data": {"name": "tagA"},
   "mark": {"type": "text", "fontSize": 20, "align": "center", "baseline": "middle", "color": "#222"},
   "encoding": {
    "x": {"field": "wn", "type": "quantitative", "axis": null},
    "y": {"field": "t", "type": "quantitative", "axis": {"orient": "left", "title": "Transmittance (a.u.)", "titleFontSize": 22, "labels": false, "ticks": false, "domain": true, "domainColor": "#555", "domainWidth": 1.5, "titleX": -21.7, "titleY": 211, "titleAngle": 270, "titleAlign": "center", "titleBaseline": "bottom"}},
    "text": {"field": "txt"}
   }
  }
 ]
},
{
 "width": 539, "height": 405,
 "resolve": {"axis": {"x": "independent"}},
 "layer": [
  {
   "data": {"name": "specB"},
   "mark": {"type": "line", "strokeWidth": 2, "clip": true, "interpolate": "monotone"},
   "encoding": {
    "x": {"field": "wn", "type": "quantitative", "scale": {"domain": [1200, 800], "nice": false, "zero": false},
          "axis": {"orient": "bottom", "values": [1200,1150,1100,1050,1000,950,900,850,800], "format": "d", "title": "Wavenumber (cm⁻¹)", "titleFontSize": 22, "labelFontSize": 18, "labelFontWeight": "bold", "labelFlush": false, "labelOverlap": false, "tickSize": -7, "labelPadding": 15, "titlePadding": 15, "domain": false}},
    "y": {"field": "t", "type": "quantitative", "scale": {"domain": [0, 1217], "nice": false, "zero": false},
          "axis": {"orient": "left", "title": "Transmittance (a.u.)", "titleFontSize": 22, "labels": false, "ticks": false, "domain": true, "domainColor": "#555", "domainWidth": 1.5, "titleX": -21.7, "titleY": 239, "titleAngle": 270, "titleAlign": "center", "titleBaseline": "bottom"}},
    "color": {"field": "s", "type": "nominal", "legend": null,
              "scale": {"domain": ["PHA-T100","PHA-T90","PHA-T80","PHA-T75","PHA-T50","PHA-T0"], "range": ["#000000","#1414ff","#1f8c1f","#7a1c1c","#ff2020","#ff8c1a"]}}
   }
  },
  {
   "data": {"name": "labB"},
   "mark": {"type": "text", "fontSize": 19, "align": "center", "baseline": "middle"},
   "encoding": {
    "x": {"field": "wn", "type": "quantitative", "axis": {"orient": "bottom", "values": [1175,1125,1075,1025,975,925,875,825], "labels": false, "domain": false, "tickSize": -4, "title": null}},
    "y": {"field": "t", "type": "quantitative", "axis": {"orient": "left", "title": "Transmittance (a.u.)", "titleFontSize": 22, "labels": false, "ticks": false, "domain": true, "domainColor": "#555", "domainWidth": 1.5, "titleX": -21.7, "titleY": 239, "titleAngle": 270, "titleAlign": "center", "titleBaseline": "bottom"}},
    "text": {"field": "s"},
    "color": {"field": "s", "type": "nominal", "legend": null}
   }
  },
  {
   "data": {"name": "annB"},
   "mark": {"type": "text", "fontSize": 12.5, "align": "left", "baseline": "middle", "color": "#333"},
   "encoding": {
    "x": {"field": "wn", "type": "quantitative", "axis": null},
    "y": {"field": "t", "type": "quantitative", "axis": {"orient": "left", "title": "Transmittance (a.u.)", "titleFontSize": 22, "labels": false, "ticks": false, "domain": true, "domainColor": "#555", "domainWidth": 1.5, "titleX": -21.7, "titleY": 239, "titleAngle": 270, "titleAlign": "center", "titleBaseline": "bottom"}},
    "text": {"field": "txt"}
   }
  },
  {
   "data": {"name": "arrB"},
   "mark": {"type": "rule", "color": "#444", "strokeWidth": 0.9},
   "encoding": {
    "x": {"field": "x1", "type": "quantitative", "axis": null},
    "x2": {"field": "x2"},
    "y": {"field": "y1", "type": "quantitative", "axis": {"orient": "left", "title": "Transmittance (a.u.)", "titleFontSize": 22, "labels": false, "ticks": false, "domain": true, "domainColor": "#555", "domainWidth": 1.5, "titleX": -21.7, "titleY": 239, "titleAngle": 270, "titleAlign": "center", "titleBaseline": "bottom"}},
    "y2": {"field": "y2"}
   }
  },
  {
   "data": {"name": "arrB"},
   "transform": [{"calculate": "atan2(-(datum.x2-datum.x1)*1.3475, (datum.y2-datum.y1)*0.3328)*180/PI", "as": "ang"}],
   "mark": {"type": "point", "shape": "triangle-up", "filled": true, "size": 28, "color": "#222", "opacity": 1},
   "encoding": {
    "x": {"field": "x2", "type": "quantitative", "axis": null},
    "y": {"field": "y2", "type": "quantitative", "axis": {"orient": "left", "title": "Transmittance (a.u.)", "titleFontSize": 22, "labels": false, "ticks": false, "domain": true, "domainColor": "#555", "domainWidth": 1.5, "titleX": -21.7, "titleY": 239, "titleAngle": 270, "titleAlign": "center", "titleBaseline": "bottom"}},
    "angle": {"field": "ang", "type": "quantitative", "scale": null}
   }
  },
  {
   "data": {"name": "tagB"},
   "mark": {"type": "text", "fontSize": 20, "align": "center", "baseline": "middle", "color": "#222"},
   "encoding": {
    "x": {"field": "wn", "type": "quantitative", "axis": null},
    "y": {"field": "t", "type": "quantitative", "axis": {"orient": "left", "title": "Transmittance (a.u.)", "titleFontSize": 22, "labels": false, "ticks": false, "domain": true, "domainColor": "#555", "domainWidth": 1.5, "titleX": -21.7, "titleY": 239, "titleAngle": 270, "titleAlign": "center", "titleBaseline": "bottom"}},
    "text": {"field": "txt"}
   }
  }
 ]
}
]
}
